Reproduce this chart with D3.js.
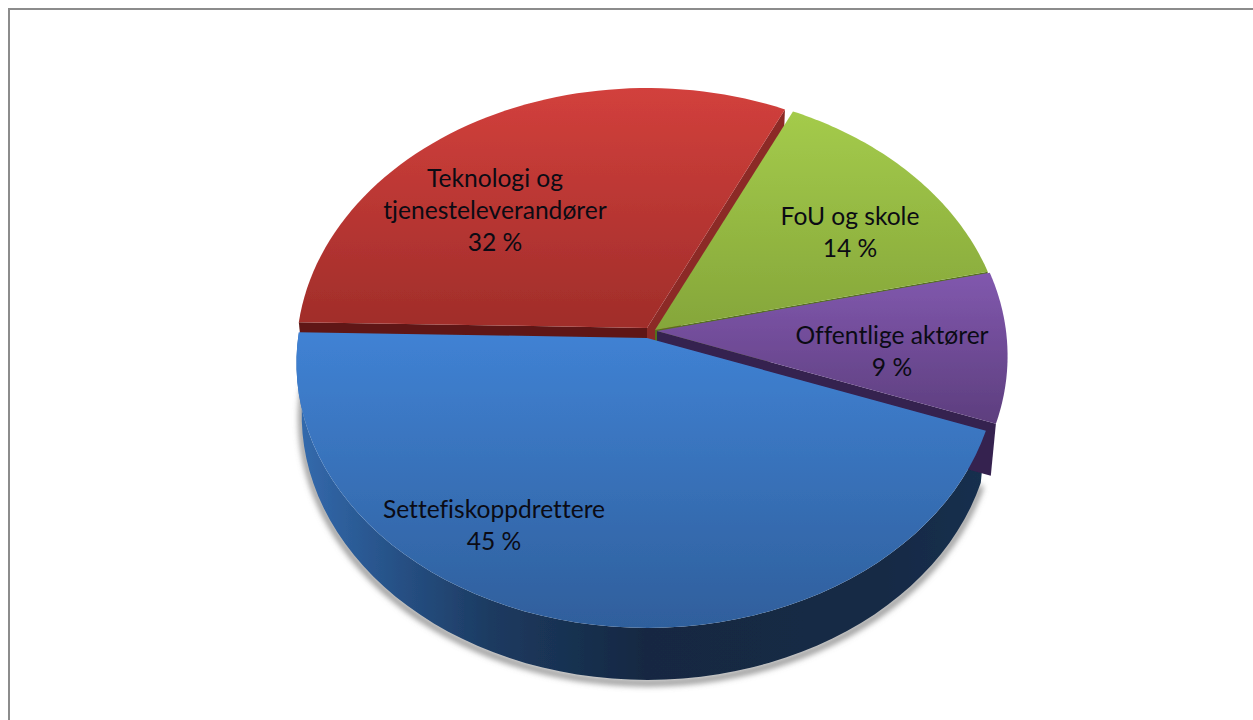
<!DOCTYPE html>
<html>
<head>
<meta charset="utf-8">
<script src="https://cdn.jsdelivr.net/npm/d3@7"></script>
<style>
    html, body { margin: 0; padding: 0; background: #fff; overflow: hidden; }
    text { font-family: Lato, "Open Sans", sans-serif; fill: #0b0b14; font-variant-ligatures: none; }
</style>
</head>
<body>
<svg id="chart" width="1253" height="720"></svg>
<script>
// chart data, shares, the printed labels are these rounded
const categories = ["Settefiskoppdrettere", "Teknologi og tjenesteleverandører", "FoU og skole", "Offentlige aktører"];
const shares = [44.8, 31.7, 14.3, 9.2];
const labelLines = [
    ["Settefiskoppdrettere"],
    ["Teknologi og", "tjenesteleverandører"],
    ["FoU og skole"],
    ["Offentlige aktører"]
];

// look of each slice, same order as categories
const topColors = [["#4082d4", "#2f5f9c"], ["#d2403c", "#a02d2a"], ["#a4cb4b", "#85a63a"], ["#8158ae", "#5d3e7e"]];
const offsets = [[-5, 6], [-5, -4], [3, -2], [5, -1]];
const labelAnchors = [[494, 526], [495, 211], [850, 233], [892, 352]];
// which cut faces show: slice index, edge, colour
const cutFaces = [[1, "start", "#5e1614"], [1, "end", "#8c2b28"], [2, "end", "#55701f"], [3, "end", "#35204f"]];

const cx = 652, cy = 332;
const a = 349, b = 262.6, persp = 0.0943;
const depth = 52;
const startDeg = 110;

const svg = d3.select("#chart");
const defs = svg.append("defs");

// theta clockwise from the top, r 0..1, shrink narrows the lower rim
function project(theta, r, off, drop = 0, shrink = 1) {
    const u = Math.sin(theta) * r, v = -Math.cos(theta) * r;
    const w = 1 - persp * v;
    return [cx + off[0] + shrink * a * u / w, cy + off[1] + drop + b * v / w];
}

const pie = d3.pie().sort(null)
    .startAngle(startDeg * Math.PI / 180)
    .endAngle((startDeg + 360) * Math.PI / 180);
const arcs = pie(shares);
const line = d3.line();

function arcPoints(d, off, drop = 0, shrink = 1) {
    return d3.range(0, 61).map(i => {
        const t = d.startAngle + (d.endAngle - d.startAngle) * i / 60;
        return project(t, 1, off, drop, shrink);
    });
}

// frame
svg.append("rect").attr("x", 9).attr("y", 9).attr("width", 1400).attr("height", 900)
    .attr("fill", "none").attr("stroke", "#8c8c8c").attr("stroke-width", 2);

const blur = defs.append("filter").attr("id", "shadow")
    .attr("x", "-10%").attr("y", "-10%").attr("width", "120%").attr("height", "120%");
blur.append("feGaussianBlur").attr("stdDeviation", 3);
const soft = defs.append("filter").attr("id", "soft");
soft.append("feGaussianBlur").attr("stdDeviation", 0.7);

// gradients
arcs.forEach((d, i) => {
    const pts = arcPoints(d, offsets[i]).concat([project(0, 0, offsets[i])]);
    const ys = d3.extent(pts, p => p[1]);
    const g = defs.append("linearGradient").attr("id", "top" + i)
        .attr("gradientUnits", "userSpaceOnUse")
        .attr("x1", 0).attr("x2", 0).attr("y1", ys[0]).attr("y2", ys[1]);
    g.append("stop").attr("offset", 0).attr("stop-color", topColors[i][0]);
    g.append("stop").attr("offset", 1).attr("stop-color", topColors[i][1]);
});
const side = defs.append("linearGradient").attr("id", "blueSide")
    .attr("gradientUnits", "userSpaceOnUse")
    .attr("x1", 300).attr("x2", 990).attr("y1", 0).attr("y2", 0);
[[0, "#336aad"], [0.12, "#28548b"], [0.28, "#1c3a60"], [0.5, "#152842"], [0.85, "#152a45"], [1, "#18304f"]]
    .forEach(s => side.append("stop").attr("offset", s[0]).attr("stop-color", s[1]));

const pieG = svg.append("g").attr("filter", "url(#soft)");

// shadow under the blue rim
const blueRim = arcPoints(arcs[0], offsets[0], depth, 0.985);
svg.insert("path", "g")
    .attr("d", line(blueRim.map(p => [p[0], p[1] + 3])))
    .attr("fill", "none").attr("stroke", "#777").attr("stroke-width", 5)
    .attr("filter", "url(#shadow)");

// rim of the blue slice
pieG.append("path")
    .attr("d", line(arcPoints(arcs[0], offsets[0]).concat(blueRim.slice().reverse())) + "Z")
    .attr("fill", "url(#blueSide)");

// cut faces, dropped straight down and covered by the slices drawn after them
cutFaces.forEach(([i, edge, color]) => {
    const theta = arcs[i][edge + "Angle"];
    const off = offsets[i];
    const p0 = project(theta, 0, off), p1 = project(theta, 1, off);
    const q1 = project(theta, 1, off, depth, 0.985), q0 = project(theta, 0, off, depth);
    pieG.append("path").attr("d", line([p0, p1, q1, q0]) + "Z").attr("fill", color);
});

// top faces, red first, blue last
[1, 2, 3, 0].forEach(i => {
    const d = arcs[i];
    pieG.append("path")
        .attr("d", line(arcPoints(d, offsets[i]).concat([project(0, 0, offsets[i])])) + "Z")
        .attr("fill", `url(#top${i})`);
});

// labels, the percent line comes from the share
labelLines.forEach((names, i) => {
    const lines = names.concat(Math.round(shares[i]) + " %");
    const t = svg.append("text").attr("text-anchor", "middle").attr("font-size", 24.6);
    const y0 = labelAnchors[i][1] - (lines.length - 1) * 32 / 2 + 8;
    lines.forEach((s, k) => {
        t.append("tspan").attr("x", labelAnchors[i][0]).attr("y", y0 + k * 32).text(s);
    });
});
</script>
</body>
</html>
